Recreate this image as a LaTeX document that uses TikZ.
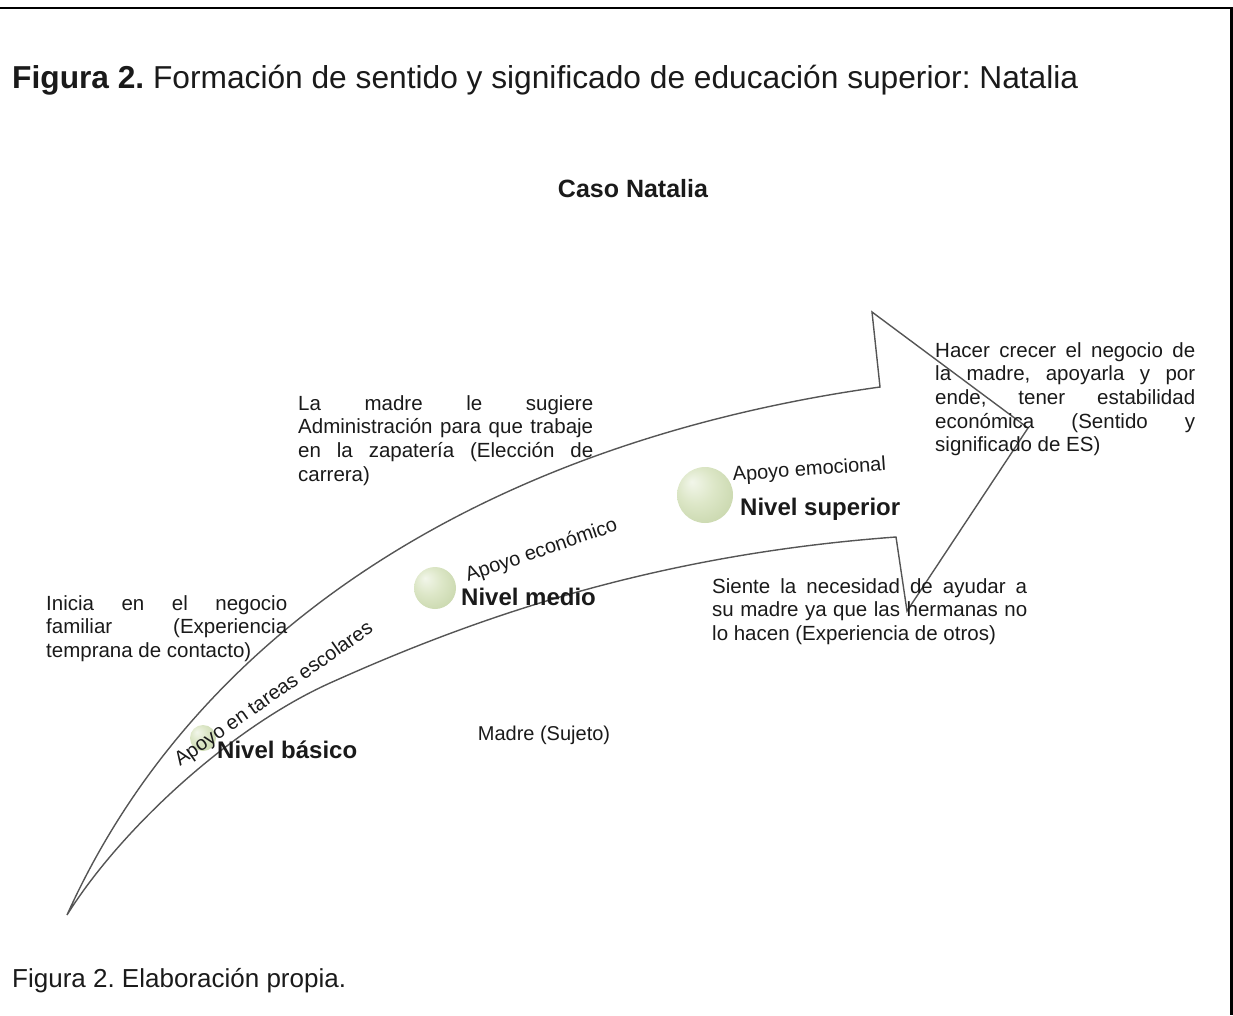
\documentclass[tikz,border=0pt]{standalone}
\usepackage{fontspec}
\setmainfont{Liberation Sans}
\frenchspacing
\definecolor{txt}{HTML}{1A1A1A}
\definecolor{ln}{HTML}{555555}
\definecolor{sphA}{HTML}{F2F6EA}
\definecolor{sphB}{HTML}{DDE7C8}
\definecolor{sphC}{HTML}{C6D5A9}
\definecolor{sphD}{HTML}{AEC18B}
\pgfdeclareradialshading{sphere}{\pgfpoint{-12bp}{12bp}}{color(0bp)=(sphA); color(16bp)=(sphB); color(36bp)=(sphC); color(50bp)=(sphD)}
\newcommand{\jl}[2]{\makebox[#1][s]{#2}}
\begin{document}
\begin{tikzpicture}[x=1pt,y=-1pt,
  body/.style={inner sep=0pt, text=txt, font=\fontsize{20.5}{23.7}\selectfont},
  lbl/.style={inner sep=0pt, text=txt, font=\fontsize{20}{24}\selectfont, anchor=base west},
  level/.style={inner sep=0pt, text=txt, font=\fontsize{24}{28}\selectfont\bfseries, anchor=base west},
  ball/.style={circle, inner sep=0pt, shading=sphere},
  arrowline/.style={draw=ln, line width=1.4pt, line join=miter}]
\useasboundingbox (0,0) rectangle (1233,1015);
% frame
\coordinate (fl) at (0,8);
\coordinate (fc) at (1231.5,8);
\coordinate (fb) at (1231.5,1015);
\draw[line width=2.5pt] (fl) -- (fc) -- (fb);

% titles
\node[anchor=base west, inner sep=0pt, text=txt] (title) at (12,88)
  {\fontsize{31.7}{38}\selectfont\textbf{Figura 2.} Formación de sentido y significado de educación superior: Natalia};
\node[anchor=base, inner sep=0pt, text=txt] (caso) at (633,197)
  {\fontsize{25}{30}\selectfont\bfseries Caso Natalia};
\node[anchor=base west, inner sep=0pt, text=txt] (caption) at (12,987)
  {\fontsize{26}{30}\selectfont Figura 2. Elaboración propia.};

% big curved arrow
\coordinate (tail) at (67,915);
\coordinate (ujoin) at (880,387);
\coordinate (wtop) at (872,312);
\coordinate (tip) at (1028,428);
\coordinate (wbot) at (907,611);
\coordinate (ljoin) at (896,537);
\coordinate (lmid) at (330,683);
\draw[arrowline] (tail) .. controls (200,620) and (500,440) .. (ujoin)
  -- (wtop) -- (tip) -- (wbot) -- (ljoin)
  .. controls (650,555) and (470,620) .. (lmid)
  .. controls (230,728) and (120,830) .. (tail);

% spheres
\node[ball, minimum size=26pt] (s1) at (203,738) {};
\node[ball, minimum size=42pt] (s2) at (435,588) {};
\node[ball, minimum size=56pt] (s3) at (705,495) {};

% level labels
\node[lbl, rotate=35] (a1) at (180,767) {Apoyo en tareas escolares};
\node[level] (n1) at (217,758) {Nivel básico};
\node[lbl, rotate=19] (a2) at (468,582) {Apoyo económico};
\node[level] (n2) at (461,605) {Nivel medio};
\node[lbl, rotate=4] (a3) at (733,481) {Apoyo emocional};
\node[level] (n3) at (740,515) {Nivel superior};
\node[lbl, anchor=base] (madre) at (544,740) {Madre (Sujeto)};

% paragraphs
\node[body, anchor=base west] (p1) at (46,610) {\parbox[t]{241pt}{%
  \jl{241pt}{Inicia en el negocio}\\
  \jl{241pt}{familiar (Experiencia}\\
  temprana de contacto)}};
\node[body, anchor=base west] (p2) at (298,410) {\parbox[t]{295pt}{%
  \jl{295pt}{La madre le sugiere}\\
  \jl{295pt}{Administración para que trabaje}\\
  \jl{295pt}{en la zapatería (Elección de}\\
  carrera)}};
\node[body, anchor=base west] (p3) at (935,357) {\parbox[t]{260pt}{%
  \jl{260pt}{Hacer crecer el negocio de}\\
  \jl{260pt}{la madre, apoyarla y por}\\
  \jl{260pt}{ende, tener estabilidad}\\
  \jl{260pt}{económica (Sentido y}\\
  significado de ES)}};
\node[body, anchor=base west] (p4) at (712,593) {\parbox[t]{315pt}{%
  \jl{315pt}{Siente la necesidad de ayudar a}\\
  \jl{315pt}{su madre ya que las hermanas no}\\
  lo hacen (Experiencia de otros)}};
\end{tikzpicture}
\end{document}
